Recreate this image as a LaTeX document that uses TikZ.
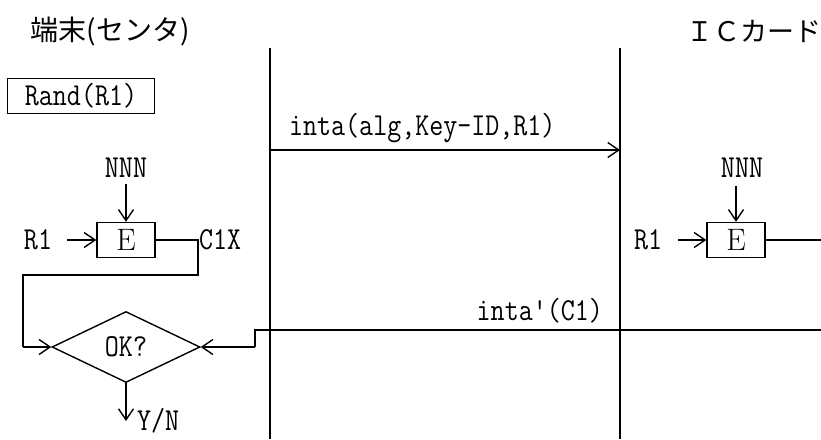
\documentclass[tikz,border=0pt]{standalone}
\usepackage{fontspec}
\usepackage{graphicx}
\newfontfamily\jpfont{Noto Sans CJK JP}
\usetikzlibrary{arrows.meta,shapes.geometric}
\newcommand\cn[1]{\scalebox{0.85}[1]{\fontsize{32}{36}\selectfont\ttfamily #1}}
\tikzset{
  x=1pt, y=-1pt,
  ln/.style={line width=1.4pt},
  arr/.style={ln, -{Straight Barb[length=11pt,width=15pt,line width=1.4pt]}},
  ebox/.style={draw, line width=1.4pt, minimum width=58pt, minimum height=35pt, inner sep=0pt,
    font=\fontsize{31}{33}\selectfont},
  lbl/.style={inner sep=0pt},
}
\begin{document}
\begin{tikzpicture}
\useasboundingbox (0,0) rectangle (821,439);
% titles
\node[lbl, font=\jpfont\fontsize{28}{30}\selectfont] (t1) at (110,31) {端末(センタ)};
\node[lbl, anchor=west, font=\jpfont\fontsize{27}{30}\selectfont] (t2) at (686,31) {ＩＣカード};
% lifelines
\coordinate (l1t) at (270,48); \coordinate (l1b) at (270,439);
\coordinate (l2t) at (620,48); \coordinate (l2b) at (620,439);
\draw[ln] (l1t) -- (l1b);
\draw[ln] (l2t) -- (l2b);
% Rand box
\node[draw, line width=1.3pt, minimum width=147pt, minimum height=35pt, inner sep=0pt] (rand) at (81,96) {\cn{Rand(R1)}};
% message 1
\coordinate (m1a) at (270,150); \coordinate (m1b) at (620,150);
\draw[arr] (m1a) -- (m1b);
\node[lbl, anchor=south west] (m1l) at (289,143) {\cn{inta(alg,Key-ID,R1)}};
% left E
\node[ebox] (e1) at (126,240) {E};
\node[lbl] (nnn1) at (126,168) {\cn{NNN}};
\draw[arr] (nnn1.south) ++(0,6) -- (e1.north);
\node[lbl] (r1a) at (38,240) {\cn{R1}};
\coordinate (r1as) at (67,240);
\draw[arr] (r1as) -- (e1.west);
\node[lbl, anchor=west] (c1x) at (199,240) {\cn{C1X}};
\coordinate (k1) at (198,240);
\coordinate (k2) at (198,275);
\coordinate (k3) at (23,275);
\coordinate (k4) at (23,347);
\node[draw, ln, diamond, aspect=2.08, minimum width=148pt, minimum height=71pt, inner sep=0pt] (ok) at (126,347) {\cn{OK?}};
\draw[ln] (e1.east) -- (k1) -- (k2) -- (k3) -- (k4);
\draw[arr] (k4) -- (ok.west);
% Y/N
\coordinate (yn) at (126,421);
\draw[arr] (ok.south) -- (yn);
\node[lbl, anchor=west] (ynl) at (137,421) {\cn{Y/N}};
% message 2
\coordinate (m2a) at (821,330); \coordinate (m2b) at (255,330); \coordinate (m2c) at (255,347);
\draw[ln] (m2a) -- (m2b) -- (m2c);
\draw[arr] (m2c) -- (ok.east);
\node[lbl, anchor=south east] (m2l) at (603,323) {\cn{inta\textquotesingle(C1)}};
% right E
\node[ebox] (e2) at (736,240) {E};
\node[lbl] (nnn2) at (742,168) {\cn{NNN}};
\coordinate (n2s) at (736,186);
\draw[arr] (n2s) -- (e2.north);
\node[lbl] (r1b) at (648,240) {\cn{R1}};
\coordinate (r1bs) at (678,240);
\draw[arr] (r1bs) -- (e2.west);
\coordinate (e2o) at (821,240);
\draw[ln] (e2.east) -- (e2o);
\end{tikzpicture}
\end{document}
